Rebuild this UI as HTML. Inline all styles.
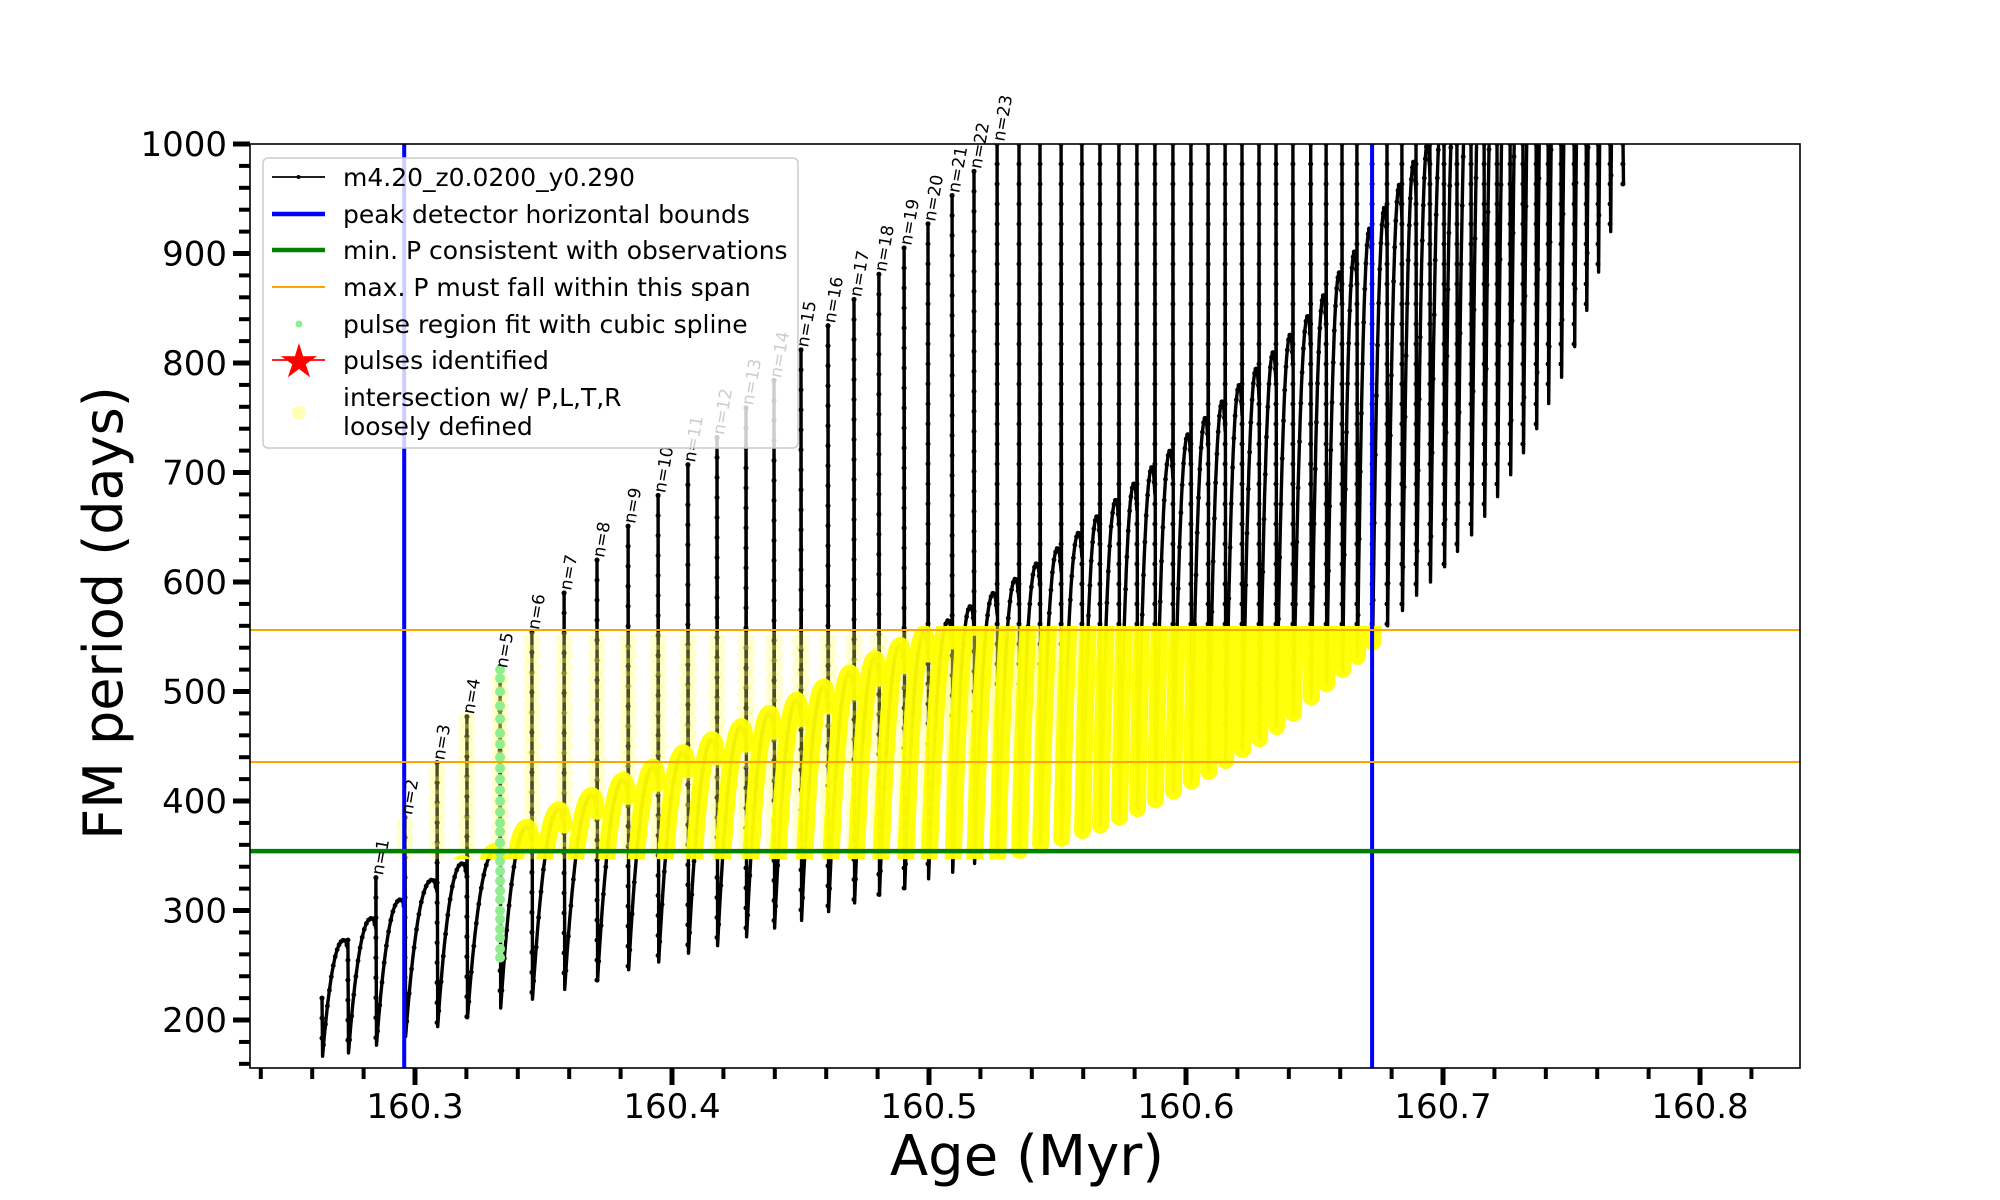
<!DOCTYPE html>
<html><head><meta charset="utf-8"><title>FM period vs Age</title>
<style>
html,body{margin:0;padding:0;background:#fff;}
svg{display:block;font-family:"DejaVu Sans","Liberation Sans",sans-serif;}
</style></head>
<body>
<svg id="chart" width="2000" height="1200" viewBox="0 0 2000 1200" xmlns="http://www.w3.org/2000/svg">
<defs>
<clipPath id="plotClip"><rect x="250" y="144" width="1550" height="924"/></clipPath>
<clipPath id="yelClip"><rect id="yelRect" x="0" y="0" width="0" height="0"/></clipPath>
</defs>
<rect x="0" y="0" width="2000" height="1200" fill="#fff"/>
<g id="plot" clip-path="url(#plotClip)"></g>
<g id="axes"></g>
<g id="legend"></g>
</svg>
<script>
// ---- data ----
const pulseAge = [160.2638,160.2739,160.2848,160.2961,160.3086,160.3202,160.3331,160.3455,160.3580,160.3708,
160.3829,160.3946,160.4062,160.4175,160.4288,160.4397,160.4502,160.4607,160.4708,160.4805,
160.4903,160.4996,160.5090,160.5175,160.5265,160.5350,160.5432,160.5514,160.5595,160.5665,
160.5739,160.5809,160.5879,160.5949,160.6019,160.6086,160.6152,160.6218,160.6284,160.6350,
160.6416,160.6485,160.6545,160.6607,160.6665,160.6724,160.6782,160.6840,160.6895,160.6949,
160.7004,160.7054,160.7109,160.7160,160.7210,160.7261,160.7311,160.7362,160.7409,160.7459,
160.7510,160.7557,160.7603,160.7650,160.7700];
const pulseDip = [167,170,177,185,194,202,211,219,228,236,
246,253,261,268,276,284,291,299,307,314,
320,329,335,343,350,355,361,366,373,378,
385,393,401,409,418,427,437,447,457,468,
480,495,507,520,532,545,560,574,588,600,
614,628,643,660,678,698,718,740,763,787,
815,848,883,920,963];
const pulseTop = [220,273,330,385,435,477,519,554,590,620,
651,679,707,732,759,784,812,834,858,881,
905,927,953,975,1010,1010,1010,1010,1010,1010,
1010,1010,1010,1010,1010,1010,1010,1010,1010,1010,
1010,1010,1010,1010,1010,1010,1010,1010,1010,1010,
1010,1010,1010,1010,1010,1010,1010,1010,1010,1010,
1010,1010,1010,1010,1010];
const arcPeak = [273,293,310,328,343,354,376,392,405,419,
431,444,456,468,480,492,504,517,530,542,
553,565,578,590,603,617,631,645,660,675,
690,705,720,735,750,765,780,795,810,826,
843,862,883,902,923,942,963,984,1003,1030,
1060,1090,1120,1150,1180,1210,1240,1270,1300,1330,
1360,1390,1420,1450];
const splineP = [257,265,275,283,292,300,310,318,327,336,345,353,362,372,380,390,400,410,420,430,440,452,462,475,487,500,512,520];
const splineAge = 160.3331;
const blueAges = [160.2958,160.6724];
const greenP = [354.3];
const orangeP = [435.6,556.2];
const labelStart = 2; // pulse index of n=1
const labelCount = 23;
const xTicks = [160.3,160.4,160.5,160.6,160.7,160.8];
const yTicks = [200,300,400,500,600,700,800,900,1000];

// ---- scales ----
const X0=250,X1=1800,Y0=144,Y1=1068;
const AMIN=160.2358, AMAX=160.8389, PMIN=156.2, PMAX=1000;
function X(a){return X0+(a-AMIN)/(AMAX-AMIN)*(X1-X0);}
function Y(p){return Y0+(PMAX-p)/(PMAX-PMIN)*(Y1-Y0);}
const NS="http://www.w3.org/2000/svg";
function mk(tag,attrs,parent){const e=document.createElementNS(NS,tag);for(const k in attrs)e.setAttribute(k,attrs[k]);if(parent)parent.appendChild(e);return e;}

const plot=document.getElementById('plot');
const axes=document.getElementById('axes');
const legend=document.getElementById('legend');

function arcShape(t){
  const c=0.85;
  if(t<=c){const u=t/c;return 1-Math.pow(1-u,2.2);}
  const v=(t-c)/(1-c);return 1-0.08*v*v;
}

const pts=[]; const arcSegs=[]; const spikeSegs=[];
for(let i=0;i<pulseAge.length;i++){
  const x=X(pulseAge[i]);
  pts.push([x,Y(pulseTop[i])]);
  pts.push([x+0.6,Y(pulseDip[i])]);
  spikeSegs.push([x,Y(pulseTop[i]),Y(pulseDip[i]),pulseTop[i],pulseDip[i]]);
  if(i<arcPeak.length){
    const xn=X(pulseAge[i+1]);const d=pulseDip[i],pk=arcPeak[i];
    const seg=[];
    const N=26;
    for(let k=1;k<=N;k++){const t=k/N;const xx=x+0.6+(xn-x-0.6)*t;const yy=Y(d+(pk-d)*arcShape(t));pts.push([xx,yy]);seg.push([xx,yy]);}
    seg.unshift([x+0.6,Y(d)]);
    arcSegs.push(seg);
  }
}
function pathOf(a){return a.map((p,i)=>(i?'L':'M')+p[0].toFixed(1)+' '+p[1].toFixed(1)).join(' ');}

// black series
const blackG=mk('g',{},plot);


mk('path',{d:pathOf(pts),fill:'none',stroke:'#000','stroke-width':3.4,'stroke-linejoin':'round'},blackG);
const dotsG=mk('g',{fill:'#000'},blackG);
pts.forEach((p,i)=>{if(i%2===0){mk('circle',{cx:p[0].toFixed(1),cy:p[1].toFixed(1),r:2.4},dotsG);}});
spikeSegs.forEach(s=>{for(let y=Math.max(s[1],Y0);y<s[2];y+=20){mk('circle',{cx:s[0].toFixed(1),cy:y.toFixed(1),r:2.5},dotsG);}});

// yellow intersection overlay
const yr=document.getElementById('yelRect');
yr.setAttribute('x',X(blueAges[0])-12);yr.setAttribute('width',X(blueAges[1])-X(blueAges[0])+24);
yr.setAttribute('y',Y(orangeP[1])-4);yr.setAttribute('height',Y(greenP[0])-Y(orangeP[1])+12);
const yelG=mk('g',{'clip-path':'url(#yelClip)'},plot);


spikeSegs.forEach((s,i)=>{
  const xs=s[0]; if(xs<X(blueAges[0])-6||xs>X(blueAges[1])+6)return;
  const lo=Math.max(s[4],greenP[0]), hi=Math.min(s[3],orangeP[1]);
  if(hi<lo)return;
  const late = pulseAge[i]>160.5;
  if(late){
    mk('line',{x1:xs,x2:xs,y1:Y(hi),y2:Y(lo),stroke:'#ffff40','stroke-width':13,'stroke-opacity':0.45,'stroke-linecap':'round'},yelG);
  } else {
    for(let p=lo;p<=hi;p+=12){mk('circle',{cx:xs,cy:Y(p),r:9,fill:'#ffff60','fill-opacity':0.3},yelG);}
  }
});
arcSegs.forEach((seg,i)=>{
  if(pulseAge[i]<blueAges[0]-0.003||pulseAge[i]>blueAges[1])return;
  mk('path',{d:pathOf(seg),fill:'none',stroke:'#ffff00','stroke-width':17,'stroke-linecap':'round','stroke-linejoin':'round','stroke-opacity':0.95},yelG);
});

// spline dots
const splG=mk('g',{fill:'#90ee90'},plot);


splineP.forEach(p=>{mk('circle',{cx:X(splineAge),cy:Y(p),r:5},splG);});

// reference lines
blueAges.forEach(a=>{const l=mk('line',{x1:X(a),x2:X(a),y1:Y0,y2:Y1,stroke:'#0000ff','stroke-width':4},plot);

});
greenP.forEach(p=>{const l=mk('line',{x1:X0,x2:X1,y1:Y(p),y2:Y(p),stroke:'#008000','stroke-width':4.5},plot);

});
orangeP.forEach(p=>{const l=mk('line',{x1:X0,x2:X1,y1:Y(p),y2:Y(p),stroke:'#ffa500','stroke-width':2},plot);

});

// n labels
for(let k=0;k<labelCount;k++){
  const i=labelStart+k;const x=X(pulseAge[i]);const y=Y(Math.min(pulseTop[i],1000));
  const t=mk('text',{x:x+7,y:y-2,'font-size':17,fill:'#000',transform:`rotate(-80 ${x+7} ${y-2})`},axes);
  
  
  t.textContent='n='+(k+1);
}

// frame
const fr=mk('rect',{x:X0,y:Y0,width:X1-X0,height:Y1-Y0,fill:'none',stroke:'#000','stroke-width':1.6},axes);



// x ticks
for(let a=160.24;a<=160.84;a+=0.02){const x=X(a);if(x<X0-1||x>X1+1)continue;mk('line',{x1:x,x2:x,y1:Y1,y2:Y1+11,stroke:'#000','stroke-width':4},axes);}
xTicks.forEach(a=>{const x=X(a);mk('line',{x1:x,x2:x,y1:Y1,y2:Y1+17,stroke:'#000','stroke-width':5},axes);
const t=mk('text',{x:x,y:1118,'font-size':34,'text-anchor':'middle',fill:'#000'},axes);


t.textContent=a.toFixed(1);});
// y ticks
for(let p=160;p<=1000;p+=20){const y=Y(p);if(y>Y1+1)continue;mk('line',{x1:X0-11,x2:X0,y1:y,y2:y,stroke:'#000','stroke-width':4},axes);}
yTicks.forEach(p=>{const y=Y(p);mk('line',{x1:X0-17,x2:X0,y1:y,y2:y,stroke:'#000','stroke-width':5},axes);
const t=mk('text',{x:227,y:y+12,'font-size':34,'text-anchor':'end',fill:'#000'},axes);


t.textContent=p;});

// axis titles
const xt=mk('text',{x:1027,y:1175,'font-size':56,'text-anchor':'middle',fill:'#000'},axes);


xt.textContent='Age (Myr)';
const yt=mk('text',{x:0,y:0,'font-size':54,'text-anchor':'middle',fill:'#000',transform:'translate(122 613) rotate(-90)'},axes);


yt.textContent='FM period (days)';

// legend
const lb=mk('rect',{x:263,y:158,width:535,height:290,rx:5,ry:5,fill:'#fff','fill-opacity':0.8,stroke:'#cccccc','stroke-width':1.5},legend);


const rows=[
 {y:177,label:'m4.20_z0.0200_y0.290',kind:'blackline'},
 {y:214,label:'peak detector horizontal bounds',kind:'line',c:'#0000ff',w:4.5},
 {y:250,label:'min. P consistent with observations',kind:'line',c:'#008000',w:4.5},
 {y:287,label:'max. P must fall within this span',kind:'line',c:'#ffa500',w:2},
 {y:324,label:'pulse region fit with cubic spline',kind:'dot'},
 {y:360,label:'pulses identified',kind:'star'},
 {y:411,label:'intersection w/ P,L,T,R|loosely defined',kind:'ycirc'}
];
rows.forEach(r=>{
  const g=mk('g',{},legend);
  
  
  if(r.kind==='blackline'){mk('line',{x1:272,x2:325,y1:r.y,y2:r.y,stroke:'#000','stroke-width':1.8},g);mk('circle',{cx:298.5,cy:r.y,r:2},g);}
  if(r.kind==='line'){mk('line',{x1:272,x2:325,y1:r.y,y2:r.y,stroke:r.c,'stroke-width':r.w},g);}
  if(r.kind==='dot'){mk('circle',{cx:299,cy:r.y,r:3.5,fill:'#90ee90'},g);}
  if(r.kind==='star'){mk('line',{x1:272,x2:325,y1:r.y,y2:r.y,stroke:'#ff0000','stroke-width':1.8},g);
    let d='';for(let k=0;k<10;k++){const ang=-Math.PI/2+k*Math.PI/5;const rad=k%2?7:19;d+=(k?'L':'M')+(299+rad*Math.cos(ang)).toFixed(1)+' '+(r.y+2+rad*Math.sin(ang)).toFixed(1);}
    mk('path',{d:d+'Z',fill:'#ff0000'},g);}
  if(r.kind==='ycirc'){mk('circle',{cx:299,cy:r.y+2,r:7,fill:'#ffffa0','fill-opacity':0.8},g);}
  const parts=r.label.split('|');
  parts.forEach((s,k)=>{const t=mk('text',{x:343,y:(parts.length>1?r.y-14+k*29:r.y)+9,'font-size':25,fill:'#000'},g);t.textContent=s;});
});
</script>
</body></html>
